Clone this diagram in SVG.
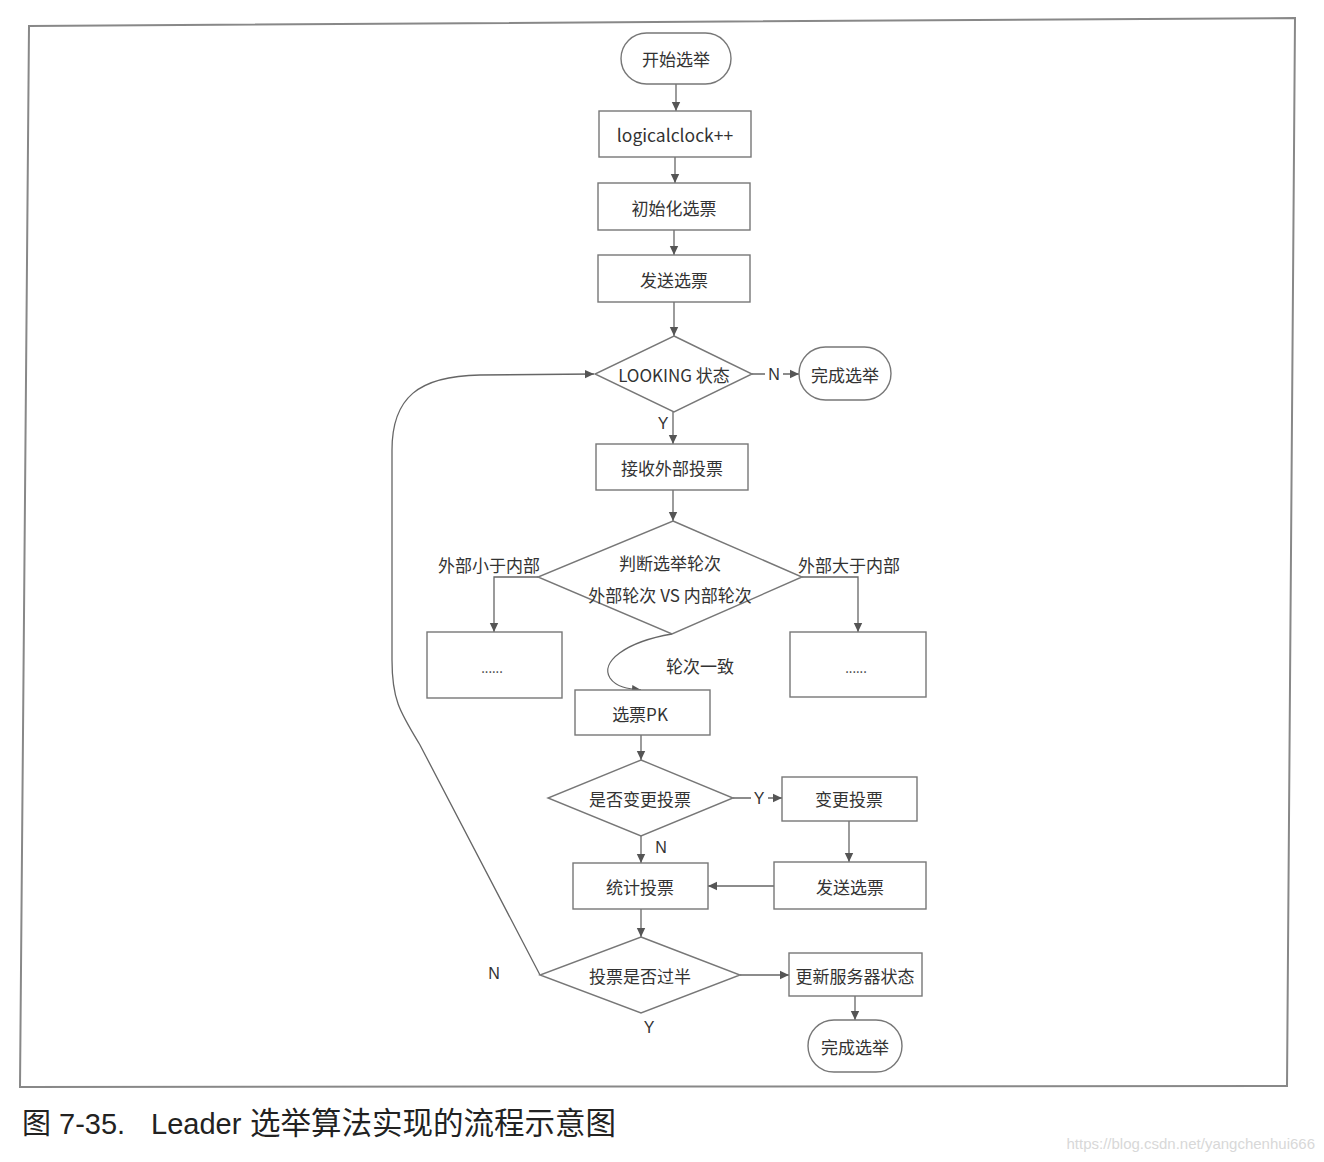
<svg xmlns="http://www.w3.org/2000/svg" width="1324" height="1162" viewBox="0 0 1324 1162">
<defs>
<marker id="ah" markerWidth="10" markerHeight="10" refX="9" refY="5" orient="auto" markerUnits="userSpaceOnUse">
<path d="M0,0.8 L9,5 L0,9.2 Z" fill="#555"/>
</marker>
<style>
.nd{fill:#fff;stroke:#777;stroke-width:1.4}
.t{font-family:"Noto Sans CJK SC","Liberation Sans",sans-serif;font-size:17px;fill:#333;text-anchor:middle;dominant-baseline:central}
.lb{font-family:"Liberation Sans","Noto Sans CJK SC",sans-serif;font-size:16px;fill:#333;text-anchor:middle;dominant-baseline:central}
.e{fill:none;stroke:#666;stroke-width:1.3}
.ea{fill:none;stroke:#666;stroke-width:1.3;marker-end:url(#ah)}
.cap{font-family:"Liberation Sans","Noto Sans CJK SC",sans-serif;font-size:29px;fill:#222}
</style>
</defs>
<rect width="1324" height="1162" fill="#fff"/>
<polygon points="29,26 1295,18 1287,1086 20,1087" fill="none" stroke="#888" stroke-width="2"/>

<g id="connectors">
<line class="ea" x1="676" y1="84" x2="676" y2="111"/>
<line class="ea" x1="675" y1="157" x2="675" y2="183"/>
<line class="ea" x1="674" y1="230" x2="674" y2="255"/>
<line class="ea" x1="674" y1="302" x2="674" y2="336"/>
<line class="ea" x1="752" y1="374" x2="799" y2="374"/>
<rect x="765" y="365" width="18" height="18" fill="#fff"/>
<text class="lb" x="774" y="374">N</text>
<line class="ea" x1="673" y1="412" x2="673" y2="444"/>
<text class="lb" x="663" y="423">Y</text>
<line class="ea" x1="673" y1="490" x2="673" y2="521"/>
<polyline class="ea" points="538,577 494,577 494,632"/>
<text class="t" x="489" y="564">外部小于内部</text>
<polyline class="ea" points="802,577 858,577 858,632"/>
<text class="t" x="849" y="564">外部大于内部</text>
<path class="ea" d="M672,634 C625,642 600,662 610,678 C616,687 628,689 641,690"/>
<text class="t" x="700" y="665">轮次一致</text>
<line class="ea" x1="641" y1="735" x2="641" y2="760"/>
<line class="ea" x1="733" y1="798" x2="782" y2="798"/>
<rect x="751" y="789" width="17" height="18" fill="#fff"/>
<text class="lb" x="759" y="798">Y</text>
<line class="ea" x1="849" y1="821" x2="849" y2="862"/>
<line class="ea" x1="641" y1="836" x2="641" y2="863"/>
<text class="lb" x="661" y="847">N</text>
<line class="ea" x1="774" y1="886" x2="708" y2="886"/>
<line class="ea" x1="641" y1="909" x2="641" y2="937"/>
<line class="ea" x1="740" y1="975" x2="789" y2="975"/>
<line class="ea" x1="855" y1="996" x2="855" y2="1020"/>
<text class="lb" x="649" y="1027">Y</text>
<text class="lb" x="494" y="973">N</text>
<path class="ea" d="M540,975 L420,745 C400,712 392,700 392,660 L392,450 C392,398 418,376 480,375 L594,374"/>
</g>

<g id="start">
<rect class="nd" x="621" y="33" width="110" height="51" rx="25.5"/>
<text class="t" x="676" y="58">开始选举</text>
</g>
<g id="logicalclock">
<rect class="nd" x="599" y="111" width="152" height="46"/>
<text class="t" x="675" y="134" style="font-size:17.5px">logicalclock++</text>
</g>
<g id="init-vote">
<rect class="nd" x="598" y="183" width="152" height="47"/>
<text class="t" x="674" y="207">初始化选票</text>
</g>
<g id="send-vote-1">
<rect class="nd" x="598" y="255" width="152" height="47"/>
<text class="t" x="674" y="279">发送选票</text>
</g>
<g id="looking">
<polygon class="nd" points="674,336 752,374 674,412 595,374"/>
<text class="t" x="674" y="374">LOOKING 状态</text>
</g>
<g id="done-1">
<rect class="nd" x="799" y="347" width="92" height="53" rx="26.5"/>
<text class="t" x="845" y="374">完成选举</text>
</g>
<g id="recv-vote">
<rect class="nd" x="596" y="444" width="152" height="46"/>
<text class="t" x="672" y="467">接收外部投票</text>
</g>
<g id="judge-round">
<polygon class="nd" points="673,521 802,577 672,634 538,577"/>
<text class="t" x="670" y="562">判断选举轮次</text>
<text class="t" x="670" y="594">外部轮次 VS 内部轮次</text>
</g>
<g id="left-box">
<rect class="nd" x="427" y="632" width="135" height="66"/>
<text class="t" x="492" y="667" style="font-size:13px">......</text>
</g>
<g id="right-box">
<rect class="nd" x="790" y="632" width="136" height="65"/>
<text class="t" x="856" y="667" style="font-size:13px">......</text>
</g>
<g id="vote-pk">
<rect class="nd" x="575" y="690" width="135" height="45"/>
<text class="t" x="640" y="713">选票PK</text>
</g>
<g id="change-q">
<polygon class="nd" points="641,760 733,798 641,836 548,798"/>
<text class="t" x="640" y="798">是否变更投票</text>
</g>
<g id="change-vote">
<rect class="nd" x="782" y="777" width="135" height="44"/>
<text class="t" x="849" y="798">变更投票</text>
</g>
<g id="send-vote-2">
<rect class="nd" x="774" y="862" width="152" height="47"/>
<text class="t" x="850" y="886">发送选票</text>
</g>
<g id="count-vote">
<rect class="nd" x="573" y="863" width="135" height="46"/>
<text class="t" x="640" y="886">统计投票</text>
</g>
<g id="majority-q">
<polygon class="nd" points="641,937 740,975 641,1013 540,975"/>
<text class="t" x="640" y="975">投票是否过半</text>
</g>
<g id="update-state">
<rect class="nd" x="789" y="953" width="133" height="43"/>
<text class="t" x="855" y="975">更新服务器状态</text>
</g>
<g id="done-2">
<rect class="nd" x="808" y="1020" width="94" height="52" rx="26"/>
<text class="t" x="855" y="1046">完成选举</text>
</g>

<text class="cap" y="1134"><tspan x="22">图 7-35.</tspan><tspan x="151">Leader</tspan><tspan x="250" style="font-size:30.5px">选举算法实现的流程示意图</tspan></text>
<text x="1315" y="1149" text-anchor="end" style="font-family:'Liberation Sans',sans-serif;font-size:15px;fill:#d8d8d8">https://blog.csdn.net/yangchenhui666</text>
</svg>
